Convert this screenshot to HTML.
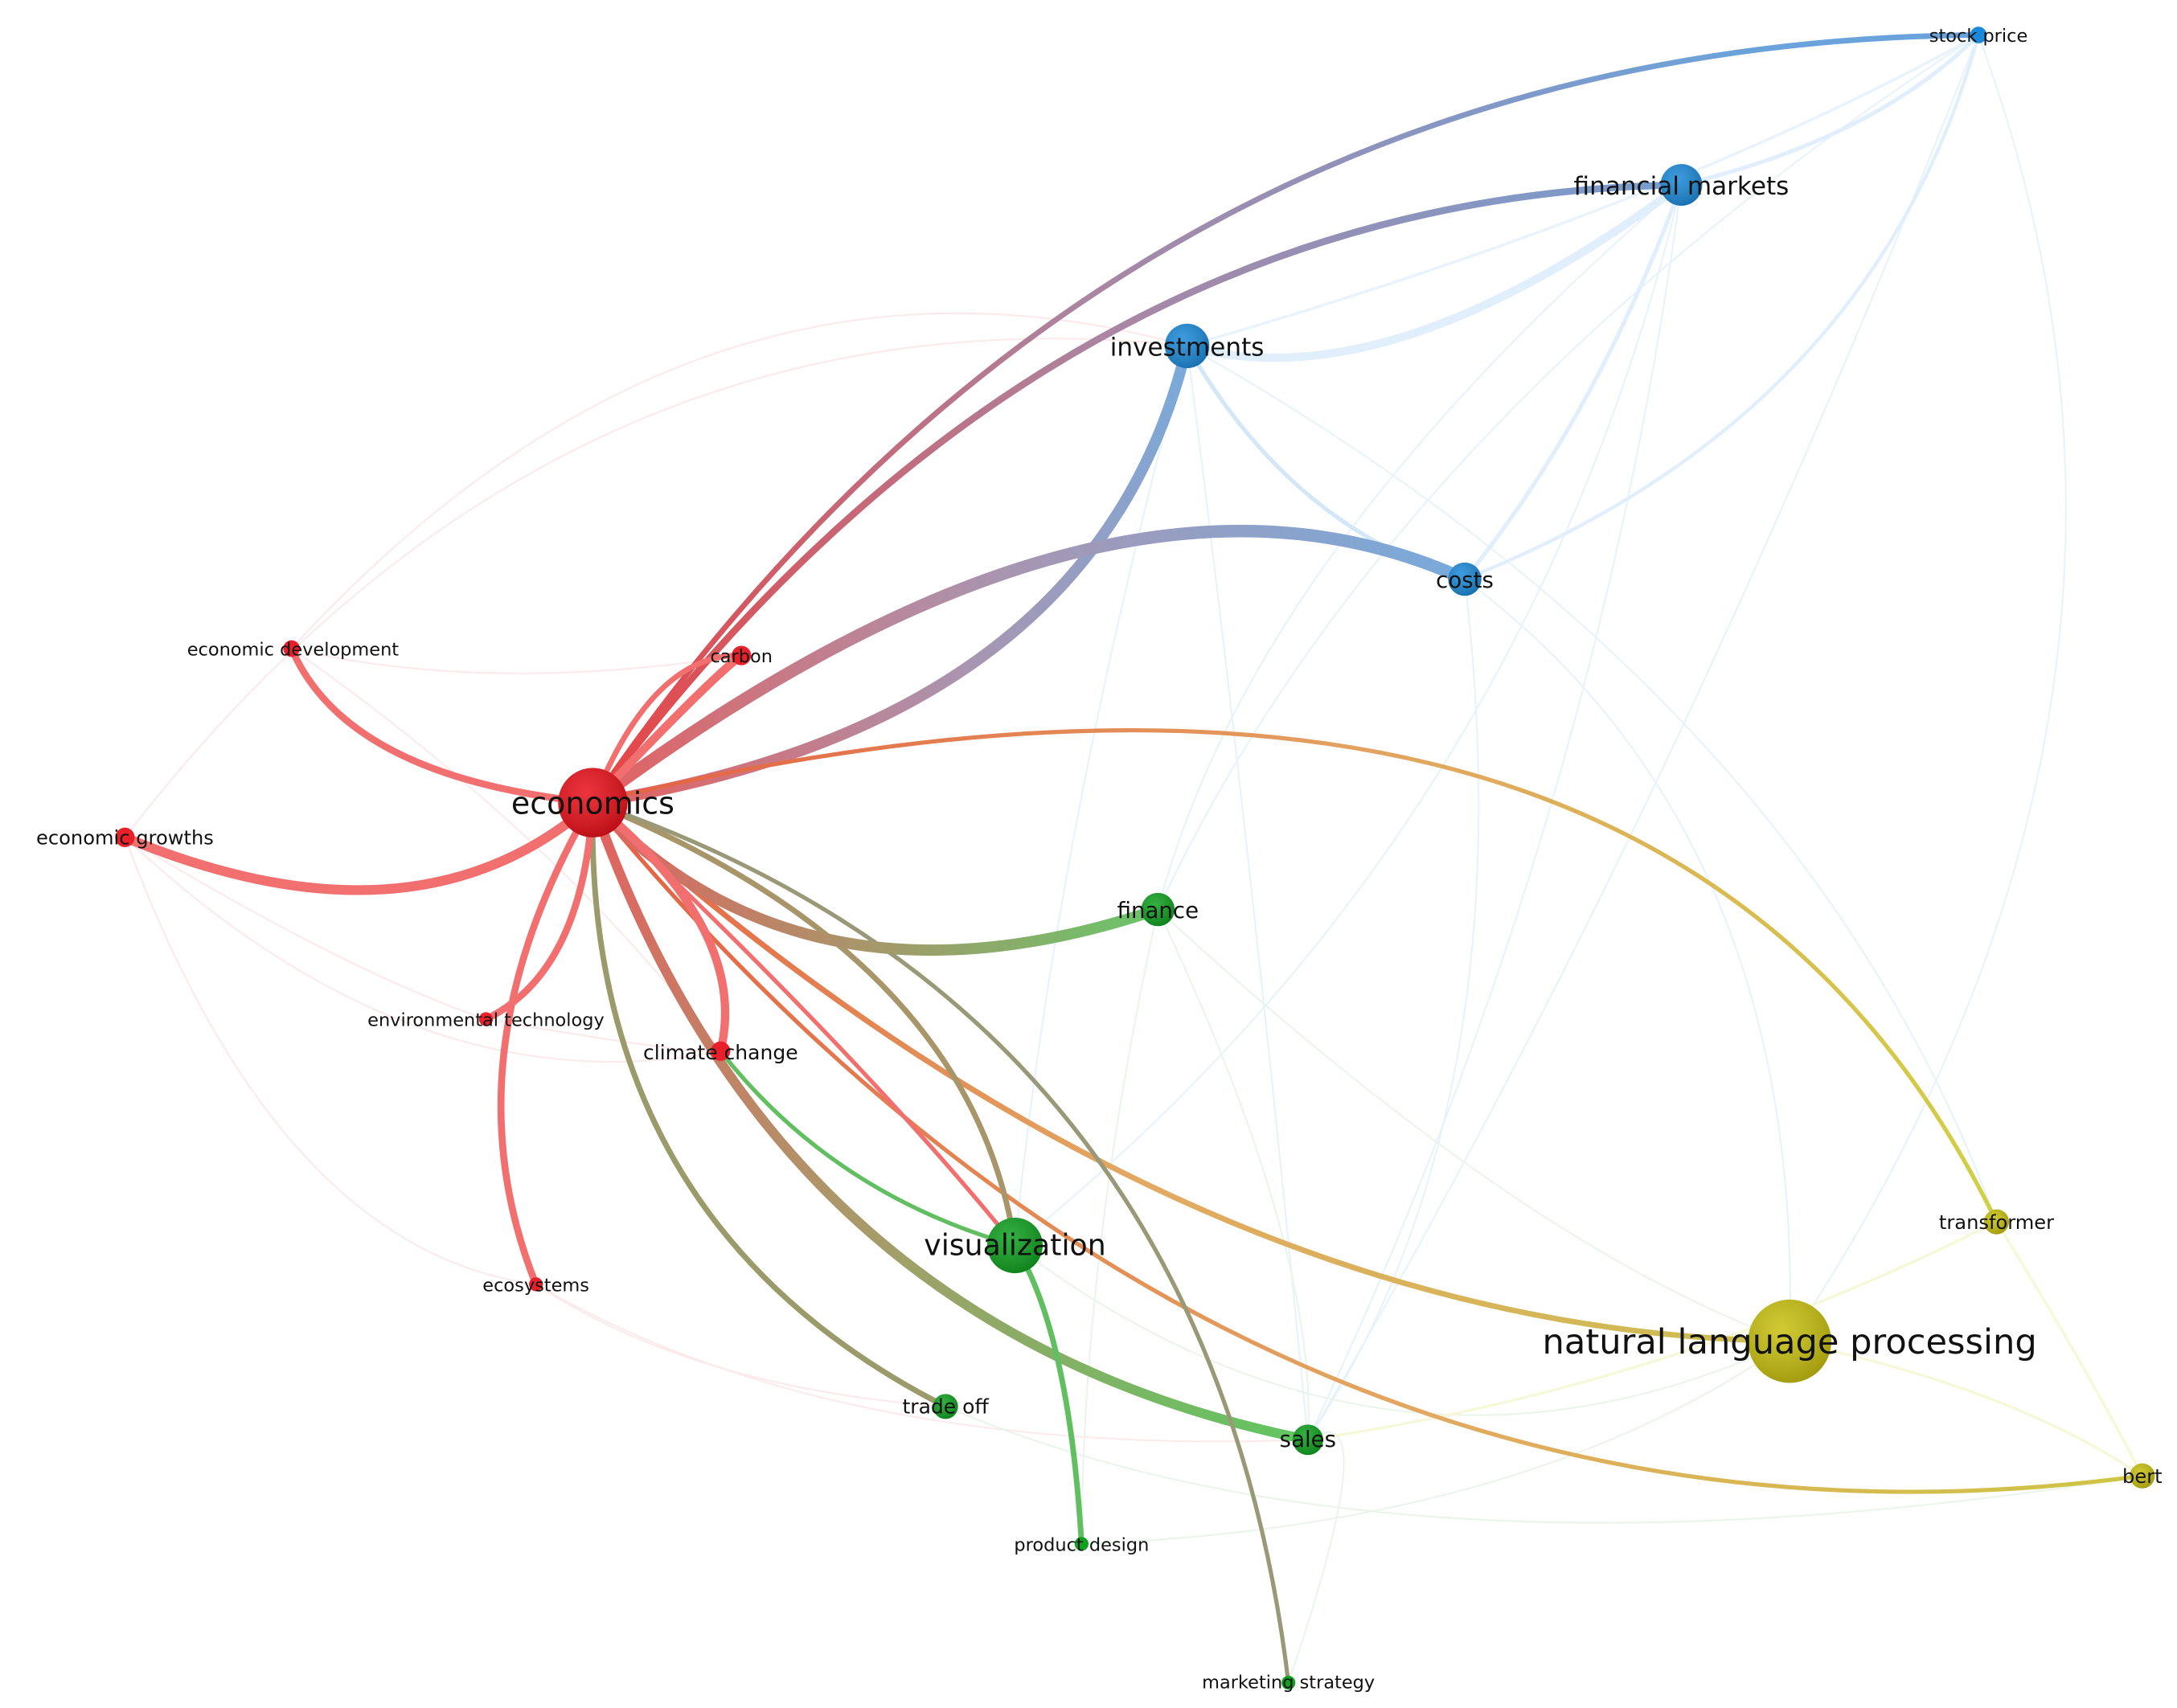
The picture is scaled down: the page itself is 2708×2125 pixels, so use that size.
<!DOCTYPE html>
<html><head><meta charset="utf-8"><style>
html,body{margin:0;padding:0;background:#fff;}
svg{display:block;}
text{font-family:"DejaVu Sans","Liberation Sans",sans-serif;fill:#111;}
</style></head><body>
<svg width="2708" height="2125" viewBox="0 0 1568 1230" xmlns="http://www.w3.org/2000/svg">
<defs>
<linearGradient id="rb" gradientUnits="userSpaceOnUse" x1="427" y1="578" x2="1300" y2="100"><stop offset="0" stop-color="#e63030"/><stop offset="0.5" stop-color="#a07a9a"/><stop offset="1" stop-color="#5a9ad8"/></linearGradient>
<linearGradient id="rb2" gradientUnits="userSpaceOnUse" x1="427" y1="578" x2="1055" y2="400"><stop offset="0" stop-color="#e05050"/><stop offset="0.5" stop-color="#a08aa8"/><stop offset="1" stop-color="#6aa2d8"/></linearGradient>
<linearGradient id="rb3" gradientUnits="userSpaceOnUse" x1="427" y1="578" x2="855" y2="249"><stop offset="0" stop-color="#e05050"/><stop offset="0.5" stop-color="#a08aa8"/><stop offset="1" stop-color="#6aa2d8"/></linearGradient>
<linearGradient id="rg" gradientUnits="userSpaceOnUse" x1="427" y1="578" x2="834" y2="655"><stop offset="0" stop-color="#e05050"/><stop offset="0.5" stop-color="#a08a5a"/><stop offset="1" stop-color="#5abf5a"/></linearGradient>
<linearGradient id="ry" gradientUnits="userSpaceOnUse" x1="427" y1="578" x2="1438" y2="880"><stop offset="0" stop-color="#e05030"/><stop offset="0.5" stop-color="#e09a50"/><stop offset="1" stop-color="#cccc30"/></linearGradient>
<linearGradient id="ry2" gradientUnits="userSpaceOnUse" x1="427" y1="578" x2="1289" y2="966"><stop offset="0" stop-color="#e05030"/><stop offset="0.5" stop-color="#e0a050"/><stop offset="1" stop-color="#c8b840"/></linearGradient>
<linearGradient id="ry3" gradientUnits="userSpaceOnUse" x1="427" y1="578" x2="1543" y2="1063"><stop offset="0" stop-color="#e05030"/><stop offset="0.6" stop-color="#e0a050"/><stop offset="1" stop-color="#c8c030"/></linearGradient>
<linearGradient id="rgr" gradientUnits="userSpaceOnUse" x1="427" y1="578" x2="942" y2="1037"><stop offset="0" stop-color="#e05050"/><stop offset="0.5" stop-color="#a0905a"/><stop offset="1" stop-color="#50c050"/></linearGradient>
<radialGradient id="shade" cx="0.4" cy="0.35" r="0.7"><stop offset="0" stop-color="#fff" stop-opacity="0.15"/><stop offset="1" stop-color="#000" stop-opacity="0.2"/></radialGradient>
</defs>
<g fill="none" stroke-linecap="round" opacity="0.9">
<g stroke="#e4f2fb" stroke-width="1.2">
<path d="M1425,25 Q1600,500 1289,966"/><path d="M1425,25 Q1200,600 942,1037"/><path d="M1211,133 Q1100,600 731,897"/><path d="M1211,133 Q1150,600 942,1037"/><path d="M1055,417 Q1100,800 942,1037"/><path d="M855,249 Q760,600 731,897"/><path d="M855,249 Q900,600 942,1037"/><path d="M1211,133 Q900,400 834,655"/><path d="M1425,25 Q1000,300 834,655"/><path d="M1055,417 Q1300,600 1289,966"/><path d="M855,249 Q1300,500 1438,880"/>
</g>
<g stroke="#fce8e8" stroke-width="1.2">
<path d="M210,467 Q500,150 855,249"/><path d="M90,603 Q400,200 855,249"/><path d="M210,467 Q400,600 519,757"/><path d="M90,603 Q300,800 519,757"/><path d="M90,603 Q200,900 386,925"/><path d="M210,467 Q350,500 534,472"/><path d="M90,603 Q250,700 350,734"/><path d="M350,734 Q500,760 519,757"/><path d="M386,925 Q600,1050 942,1037"/><path d="M386,925 Q500,1000 681,1013"/>
</g>
<g stroke="#e8f5e8" stroke-width="1.2">
<path d="M834,655 Q780,900 779,1112"/><path d="M834,655 Q950,900 942,1037"/><path d="M731,897 Q1000,1100 1289,966"/><path d="M681,1013 Q1000,1150 1543,1063"/><path d="M779,1112 Q1100,1100 1289,966"/><path d="M834,655 Q1100,900 1289,966"/><path d="M928,1212 Q1000,1000 942,1037"/>
</g>
<g stroke="#f6f8d4" stroke-width="2"><path d="M1289,966 Q1450,1000 1543,1063"/><path d="M1438,880 Q1500,980 1543,1063"/><path d="M942,1037 Q1200,1000 1438,880"/></g>
<path d="M855,249 Q1000,290 1211,133" stroke="#ddeefb" stroke-width="6"/>
<path d="M855,249 Q930,380 1055,417" stroke="#cfe5f7" stroke-width="3"/>
<path d="M1055,417 Q1150,300 1211,133" stroke="#ddeefb" stroke-width="3"/>
<path d="M1055,417 Q1350,300 1425,25" stroke="#ddeefb" stroke-width="2.5"/>
<path d="M1211,133 Q1350,100 1425,25" stroke="#ddeefb" stroke-width="3"/>
<path d="M855,249 Q1200,150 1425,25" stroke="#e6f2fc" stroke-width="2"/>
<path d="M427,578 Q800,30 1425,25" stroke="url(#rb)" stroke-width="4"/>
<path d="M427,578 Q750,140 1211,133" stroke="url(#rb)" stroke-width="5"/>
<path d="M427,578 Q790,520 855,249" stroke="url(#rb3)" stroke-width="8"/>
<path d="M427,578 Q800,300 1055,417" stroke="url(#rb2)" stroke-width="9"/>
<path d="M427,578 Q1200,390 1438,880" stroke="url(#ry)" stroke-width="3"/>
<path d="M427,578 Q850,960 1289,966" stroke="url(#ry2)" stroke-width="4"/>
<path d="M427,578 Q900,1150 1543,1063" stroke="url(#ry3)" stroke-width="3"/>
<path d="M427,578 Q560,960 942,1037" stroke="url(#rgr)" stroke-width="7"/>
<path d="M427,578 Q420,880 681,1013" stroke="#90905a" stroke-width="4"/>
<path d="M427,578 Q700,690 731,897" stroke="#a08a5a" stroke-width="4"/>
<path d="M427,578 Q870,730 928,1212" stroke="#8f8f6a" stroke-width="3"/>
<path d="M427,578 Q580,740 834,655" stroke="url(#rg)" stroke-width="8"/>
<path d="M427,578 Q510,490 534,472" stroke="#f06060" stroke-width="6"/>
<path d="M427,578 Q470,470 534,472" stroke="#f06060" stroke-width="4"/>
<path d="M427,578 Q250,560 210,467" stroke="#f06060" stroke-width="5"/>
<path d="M427,578 Q300,690 90,603" stroke="#f06060" stroke-width="7"/>
<path d="M427,578 Q420,700 350,734" stroke="#f06060" stroke-width="5"/>
<path d="M427,578 Q320,760 386,925" stroke="#f06060" stroke-width="5"/>
<path d="M427,578 Q540,670 519,757" stroke="#f06060" stroke-width="6"/>
<path d="M427,578 Q620,760 731,897" stroke="#f06060" stroke-width="3"/>
<path d="M519,757 Q600,860 731,897" stroke="#50b850" stroke-width="3"/>
<path d="M731,897 Q770,960 779,1112" stroke="#50b850" stroke-width="4"/>
</g>
<g>
<circle cx="427" cy="578" r="25" fill="#e8101a"/>
<circle cx="210" cy="467" r="6" fill="#e8202a"/>
<circle cx="534" cy="472" r="7" fill="#e8202a"/>
<circle cx="90" cy="603" r="7" fill="#e8202a"/>
<circle cx="350" cy="734" r="5" fill="#e8202a"/>
<circle cx="519" cy="757" r="7" fill="#e8202a"/>
<circle cx="386" cy="925" r="5" fill="#e8202a"/>
<circle cx="855" cy="249" r="16" fill="#1c8ad8"/>
<circle cx="1211" cy="133" r="15" fill="#1c8ad8"/>
<circle cx="1425" cy="25" r="6" fill="#1c8ad8"/>
<circle cx="1055" cy="417" r="12" fill="#1c8ad8"/>
<circle cx="834" cy="655" r="12" fill="#10a020"/>
<circle cx="731" cy="897" r="20" fill="#10a020"/>
<circle cx="681" cy="1013" r="9" fill="#10a020"/>
<circle cx="942" cy="1037" r="11" fill="#10a020"/>
<circle cx="779" cy="1112" r="5" fill="#10a020"/>
<circle cx="928" cy="1212" r="5" fill="#10a020"/>
<circle cx="1289" cy="966" r="30" fill="#c8c010"/>
<circle cx="1438" cy="880" r="9" fill="#c8c010"/>
<circle cx="1543" cy="1063" r="9" fill="#c8c010"/>
</g>
<g fill="url(#shade)">
<circle cx="427" cy="578" r="25"/><circle cx="855" cy="249" r="16"/><circle cx="1211" cy="133" r="15"/><circle cx="1055" cy="417" r="12"/><circle cx="834" cy="655" r="12"/><circle cx="731" cy="897" r="20"/><circle cx="942" cy="1037" r="11"/><circle cx="1289" cy="966" r="30"/><circle cx="1438" cy="880" r="9"/><circle cx="1543" cy="1063" r="9"/><circle cx="681" cy="1013" r="9"/>
</g>
<g text-anchor="middle">
<text x="427" y="586" font-size="22">economics</text>
<text x="211" y="472" font-size="13">economic development</text>
<text x="534" y="477" font-size="13">carbon</text>
<text x="90" y="608" font-size="14">economic growths</text>
<text x="350" y="739" font-size="13">environmental technology</text>
<text x="519" y="763" font-size="14.5">climate change</text>
<text x="386" y="930" font-size="13">ecosystems</text>
<text x="855" y="256" font-size="18">investments</text>
<text x="1211" y="140" font-size="18">financial markets</text>
<text x="1425" y="30" font-size="13">stock price</text>
<text x="1055" y="423" font-size="16">costs</text>
<text x="834" y="661" font-size="16">finance</text>
<text x="731" y="904" font-size="21">visualization</text>
<text x="681" y="1018" font-size="14.5">trade off</text>
<text x="942" y="1042" font-size="16">sales</text>
<text x="779" y="1117" font-size="13">product design</text>
<text x="928" y="1216" font-size="13">marketing strategy</text>
<text x="1289" y="975" font-size="25">natural language processing</text>
<text x="1438" y="885" font-size="14">transformer</text>
<text x="1543" y="1068" font-size="14">bert</text>
</g>
</svg>
</body></html>
